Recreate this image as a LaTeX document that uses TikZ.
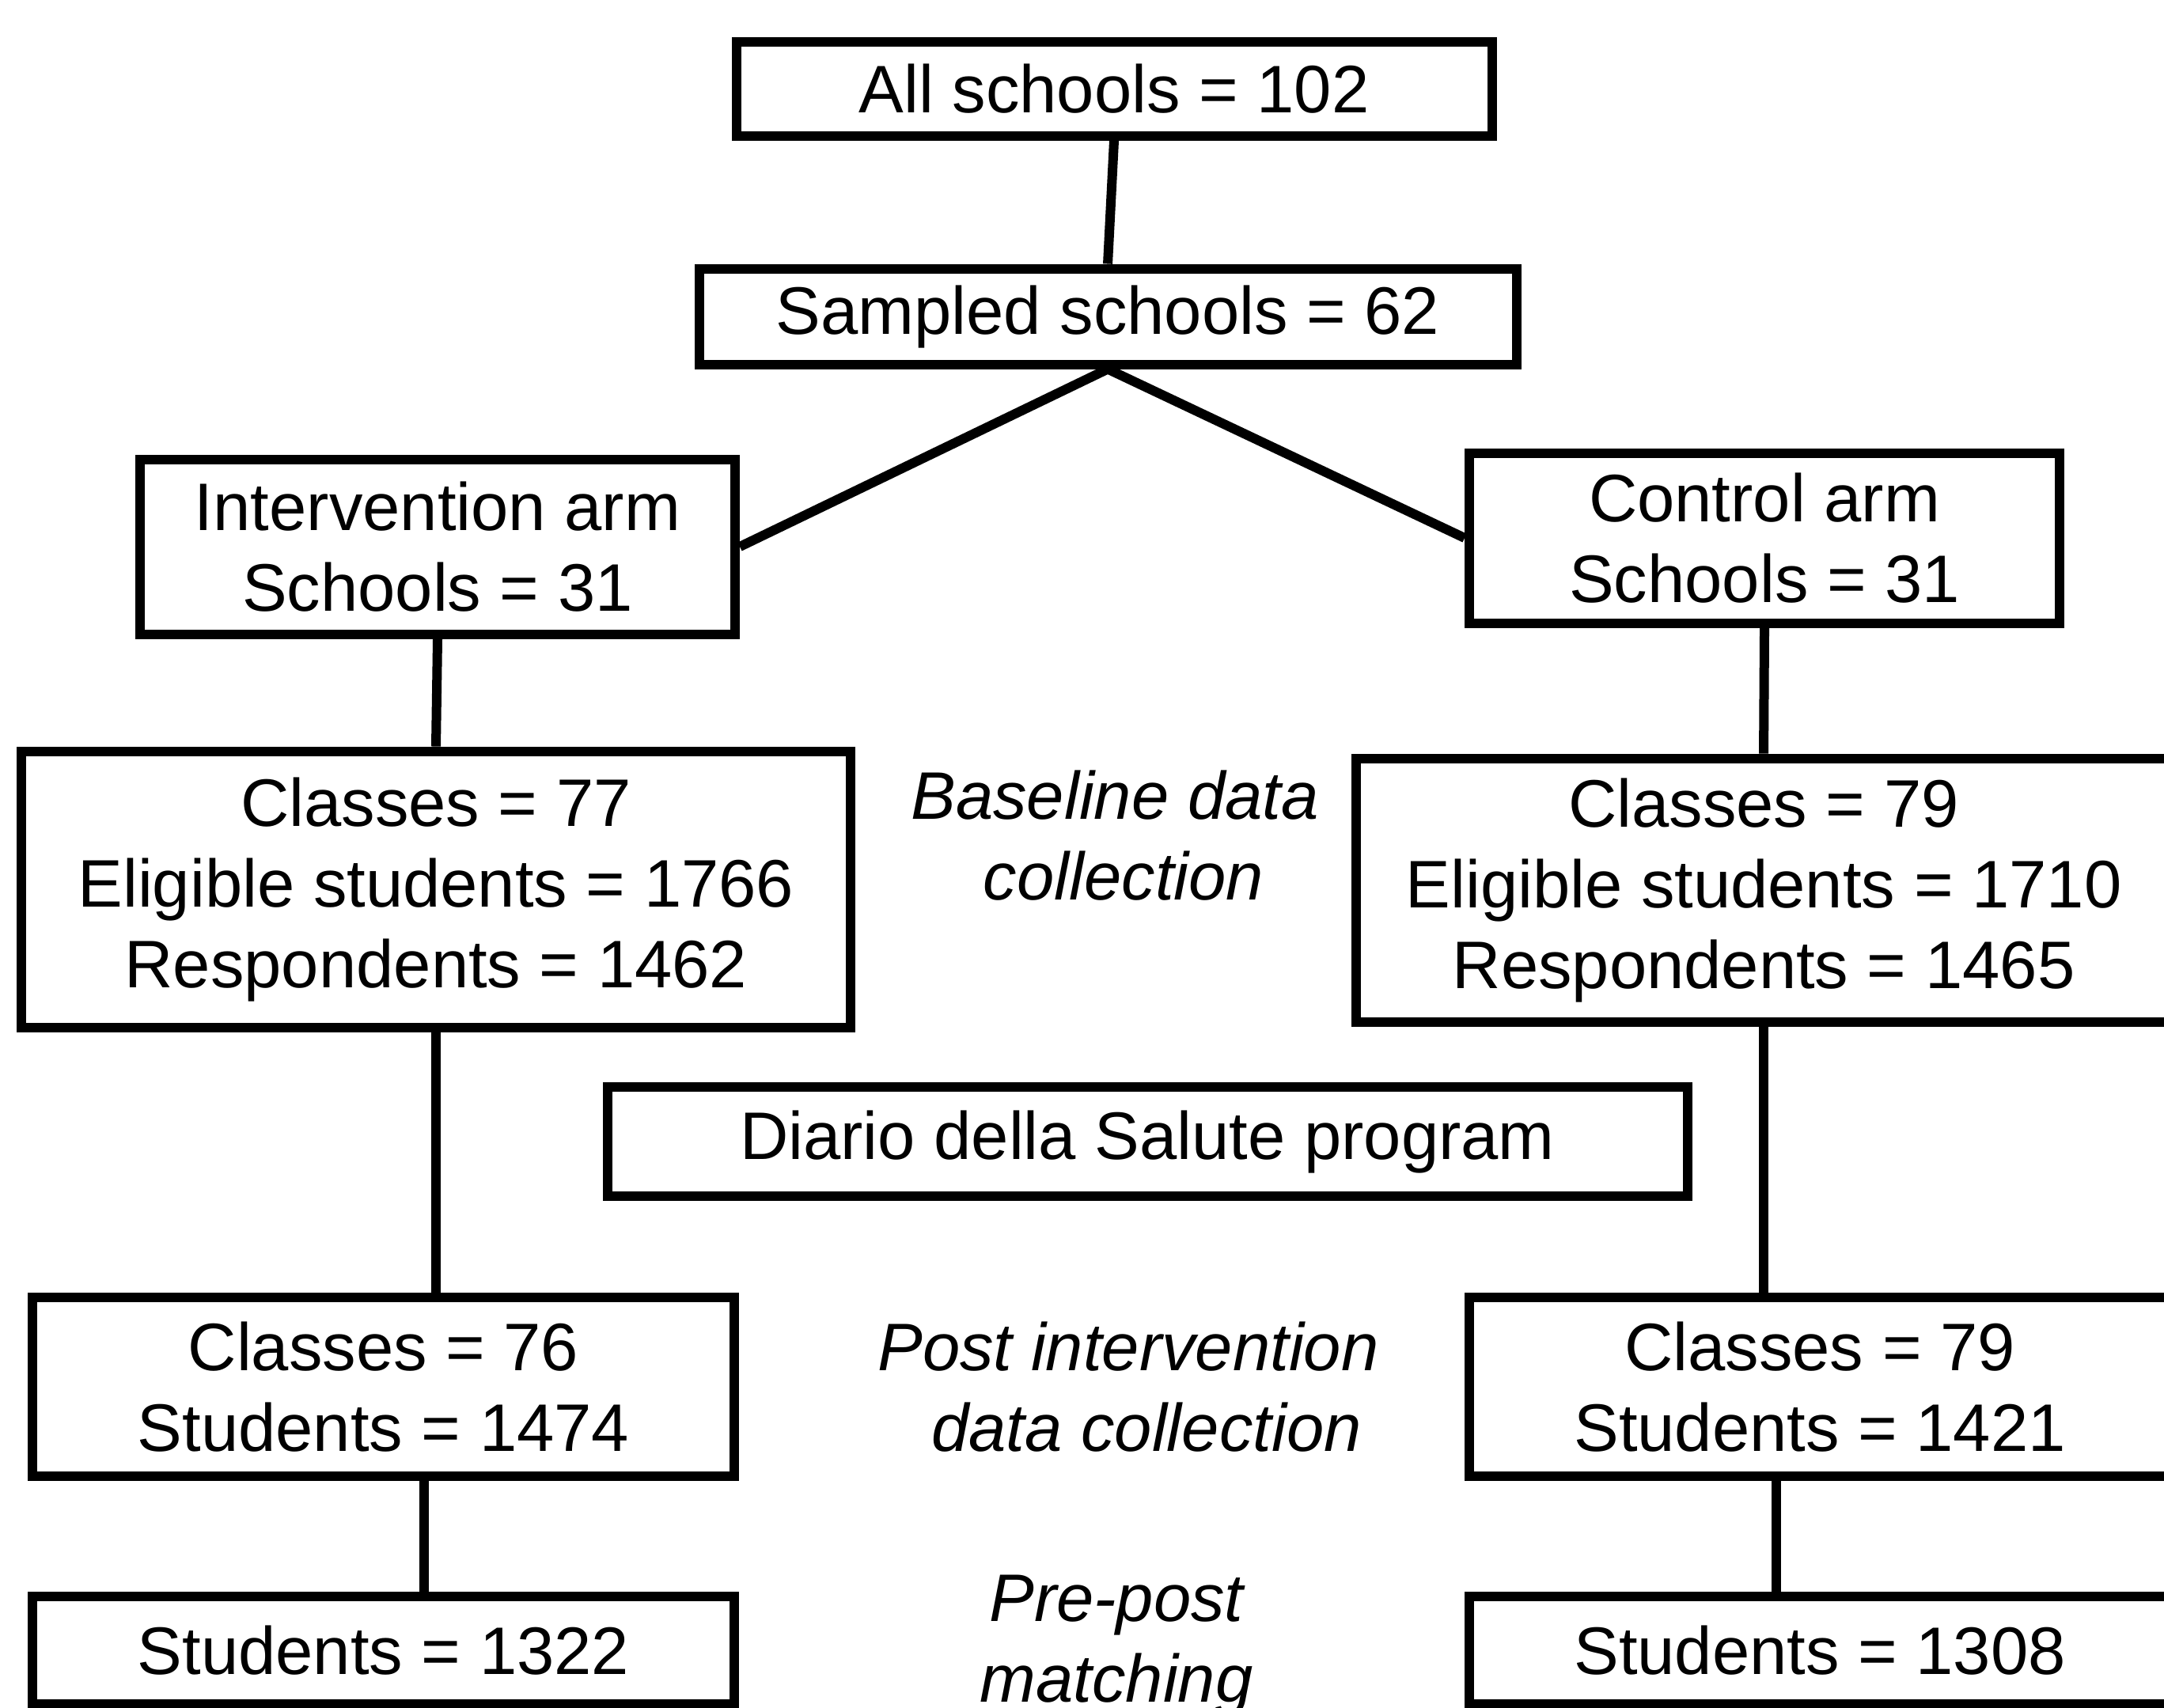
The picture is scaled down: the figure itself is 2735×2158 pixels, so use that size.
\documentclass[tikz,border=0pt]{standalone}
\usepackage{fontspec}
\setmainfont{Liberation Sans}
\usetikzlibrary{positioning}

\tikzset{
  box/.style={draw, line width=1.2pt, inner sep=0pt, align=center,
    font=\fontsize{8.5}{10.2}\selectfont},
  phase/.style={inner sep=0pt, align=center,
    font=\fontsize{8.5}{10.2}\selectfont\itshape},
  link/.style={line width=1.2pt}
}

\begin{document}
\begin{tikzpicture}[x=0.1pt,y=0.1pt,yscale=-1,xscale=1]
\path[use as bounding box, clip] (0,0) rectangle (2735,2158);

% Box: all and sampled schools
\node[box, minimum width=95.5pt, minimum height=11.9pt] (all) at (1408,112) {All schools = 102};
\node[box, minimum width=103.3pt, minimum height=12.1pt] (sampled) at (1400,400) {Sampled schools = 62};

% Box: the two arms
\node[box, minimum width=75.2pt, minimum height=22.1pt] (interv) at (553,691) {Intervention arm\\Schools = 31};
\node[box, minimum width=74.6pt, minimum height=21.5pt] (control) at (2230,680) {Control arm\\Schools = 31};

% Box: baseline
\node[box, minimum width=104.8pt, minimum height=34.9pt] (cls77) at (551,1124) {Classes = 77\\Eligible students = 1766\\Respondents = 1462};
\node[box, minimum width=103pt, minimum height=33.3pt] (cls79) at (2229,1125) {Classes = 79\\Eligible students = 1710\\Respondents = 1465};

% Box: program
\node[box, minimum width=136.5pt, minimum height=13.8pt] (diario) at (1450,1443) {Diario della Salute program};

% Box: post intervention
\node[box, minimum width=88.7pt, minimum height=22.6pt] (cls76) at (484.5,1753) {Classes = 76\\Students = 1474};
\node[box, minimum width=88.6pt, minimum height=22.6pt] (post79) at (2300,1753) {Classes = 79\\Students = 1421};

% Box: matched students
\node[box, minimum width=88.7pt, minimum height=13.6pt] (st1322) at (484.5,2086) {Students = 1322};
\node[box, minimum width=88.6pt, minimum height=13.6pt] (st1308) at (2300,2086) {Students = 1308};

% Text Node
\node[phase] (base) at (1409,1056) {Baseline data\\\hspace*{2.2pt}collection};
\node[phase] (postlab) at (1426,1753) {Post intervention\\\hspace*{4.6pt}data collection};
\node[phase] (match) at (1411,2080) {Pre-post\\matching};

% Links
\draw[link] (all.south) -- (sampled.north);
\draw[link] (sampled.south) -- (interv.east);
\draw[link] (sampled.south) -- (control.west);
\draw[link] (interv.south) -- (cls77.north);
\draw[link] (control.south) -- (cls79.north);
\draw[link] (cls77.south) -- (cls77.south |- cls76.north);
\draw[link] (cls79.south) -- (cls79.south |- post79.north);
\draw[link] ([xshift=5.15pt]cls76.south) -- ([xshift=5.15pt]st1322.north);
\draw[link] ([xshift=-5.5pt]post79.south) -- ([xshift=-5.5pt]st1308.north);

\end{tikzpicture}
\end{document}
